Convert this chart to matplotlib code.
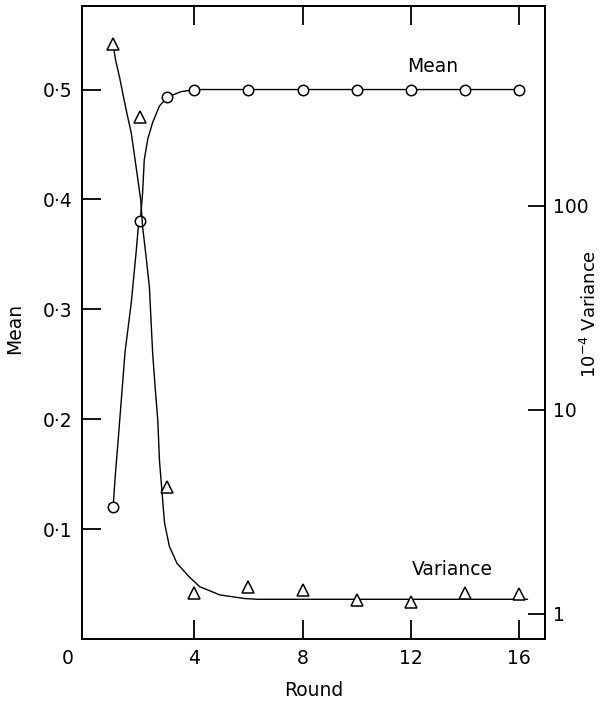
import matplotlib
matplotlib.use('Agg')
import matplotlib.pyplot as plt
import matplotlib.transforms as mtransforms
from matplotlib.ticker import FixedLocator, FuncFormatter, NullLocator

# Observed points
rounds = [1, 2, 3, 4, 6, 8, 10, 12, 14, 16]
mean_vals = [0.12, 0.38, 0.493, 0.5, 0.5, 0.5, 0.5, 0.5, 0.5, 0.5]
var_vals = [625, 274, 4.2, 1.27, 1.35, 1.31, 1.17, 1.14, 1.26, 1.25]

# Drawn curves
mean_curve_x = [1, 1.09, 1.19, 1.44, 1.67, 1.85, 1.93, 2, 2.09, 2.15, 2.28, 2.46,
                2.71, 3, 3.5, 4, 16]
mean_curve_y = [0.12, 0.152, 0.182, 0.261, 0.306, 0.352, 0.375, 0.38, 0.406, 0.436,
                0.455, 0.470, 0.485, 0.493, 0.498, 0.5, 0.5]
var_curve_x = [1, 1.09, 1.25, 1.38, 1.52, 1.67, 1.85, 2.02, 2.09, 2.22, 2.34, 2.46,
               2.56, 2.65, 2.71, 2.75, 2.81, 2.90, 3.08, 3.36, 3.81, 4.20, 4.94,
               5.86, 6.34, 16.3]
var_curve_y = [620, 520, 420, 344, 280, 228, 155, 107, 79, 56, 40, 19,
               12.5, 8.9, 5.7, 4.9, 3.9, 2.79, 2.14, 1.77, 1.52, 1.36, 1.24,
               1.19, 1.18, 1.18]

x_ticks = [0, 4, 8, 12, 16]
mean_ticks = [0.1, 0.2, 0.3, 0.4, 0.5]
var_ticks = [1, 10, 100]

FS = 13.5
plt.rcParams['font.family'] = 'DejaVu Sans'

fig = plt.figure(figsize=(6.05, 7.08), dpi=100)
ax = fig.add_axes([0.1355, 0.0975, 0.7653, 0.894])
ax2 = ax.twinx()

# mean
ax.plot(mean_curve_x, mean_curve_y, color='black', lw=1.0, zorder=2)
ax.plot(rounds, mean_vals, 'o', ms=7.5, mfc='white', mec='black', mew=1.1, zorder=3)

# variance (log scale on right)
ax2.set_yscale('log')
ax2.plot(var_curve_x, var_curve_y, color='black', lw=1.0, zorder=2)
ax2.plot(rounds, var_vals, '^', ms=8.5, mfc='white', mec='black', mew=1.1, zorder=3)

ax.set_xlim(-0.15, 16.95)
ax.set_ylim(0, 0.576)
ax2.set_ylim(0.754, 955)

ax.xaxis.set_major_locator(FixedLocator(x_ticks))
ax.yaxis.set_major_locator(FixedLocator(mean_ticks))
ax.yaxis.set_major_formatter(FuncFormatter(lambda v, p: f'{v:.1f}'.replace('.', '·')))
ax2.yaxis.set_major_locator(FixedLocator(var_ticks))
ax2.yaxis.set_minor_locator(NullLocator())
ax2.yaxis.set_major_formatter(FuncFormatter(lambda v, p: f'{int(v)}'))

ax.tick_params(axis='both', direction='in', length=14, width=1.3, labelsize=FS, pad=7)
ax.tick_params(axis='x', top=True, bottom=True)
ax.tick_params(axis='y', left=True, right=False)
ax2.tick_params(axis='y', direction='in', length=12, width=1.3, labelsize=FS, pad=6)

for a in (ax, ax2):
    for s in a.spines.values():
        s.set_linewidth(1.3)

fig.canvas.draw()
# the "0" sits left of the corner in the original
shift = mtransforms.ScaledTranslation(-18 / 100, 0, fig.dpi_scale_trans)
lab0 = ax.get_xticklabels()[0]
lab0.set_transform(lab0.get_transform() + shift)
ax.xaxis.get_major_ticks()[0].tick1line.set_visible(False)
ax.xaxis.get_major_ticks()[0].tick2line.set_visible(False)

ax.set_xlabel('Round', fontsize=FS)
ax.xaxis.set_label_coords(0.5, -0.066)
ax.set_ylabel('Mean', fontsize=FS)
ax.yaxis.set_label_coords(-0.125, 0.49)
ax2.set_ylabel(r'10$^{-4}$ Variance', fontsize=13, rotation=90)
ax2.yaxis.set_label_coords(1.076, 0.513)

ax.text(0.758, 0.905, 'Mean', transform=ax.transAxes, fontsize=FS, ha='center', va='center')
ax.text(0.799, 0.109, 'Variance', transform=ax.transAxes, fontsize=FS, ha='center', va='center')

plt.savefig('out.png', dpi=100)
